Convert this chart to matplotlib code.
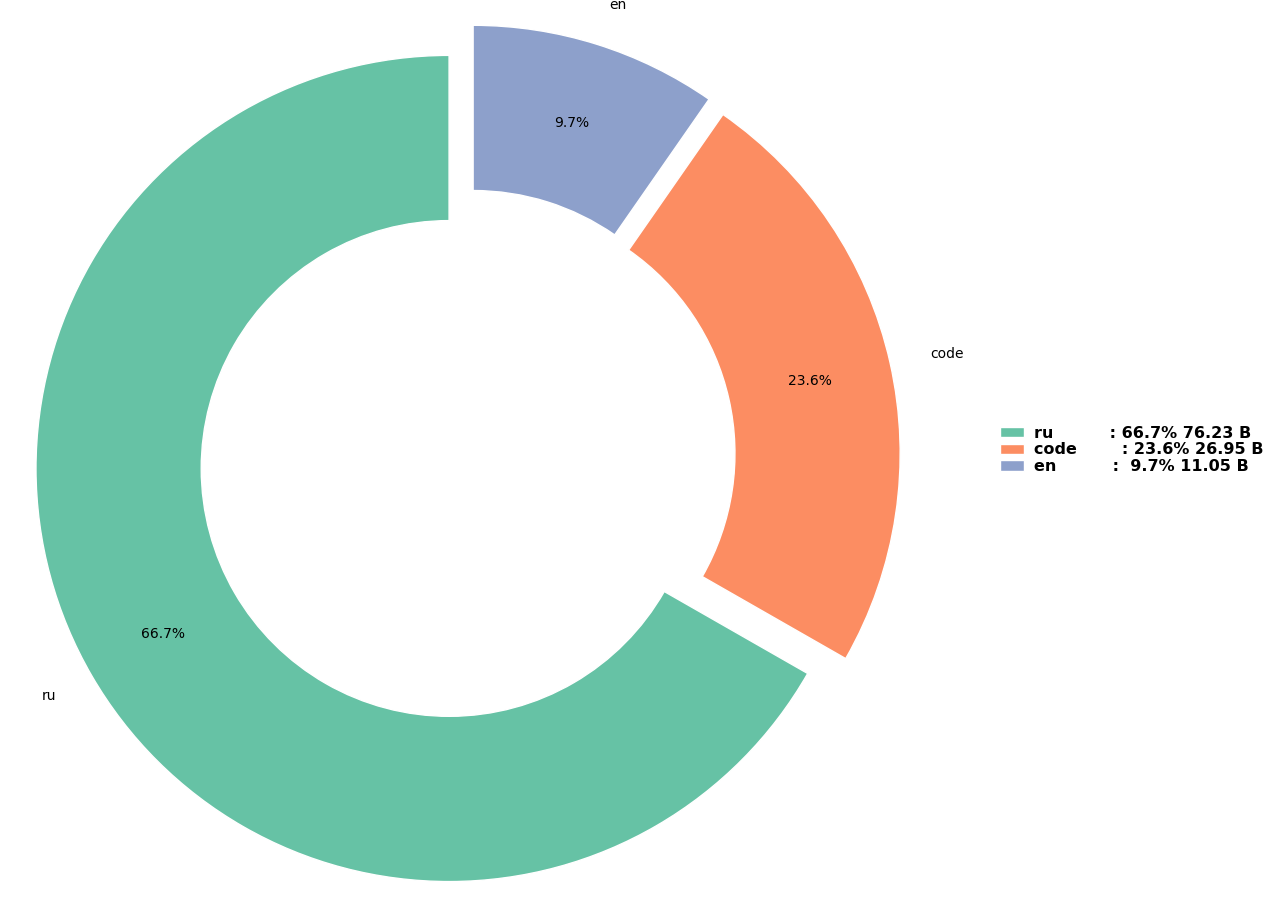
import matplotlib.pyplot as plt

### data
langs = ["ru", "code", "en"]
tokens_b = [76.23, 26.95, 11.05]
colors = ["#66c2a5", "#fc8d62", "#8da0cb"]
explode = [0.05, 0.05, 0.05]

legend_labels = [
    "ru          : 66.7% 76.23 B",
    "code        : 23.6% 26.95 B",
    "en          :  9.7% 11.05 B",
]

fig = plt.figure(figsize=(12.8, 9), dpi=100)
ax = fig.add_axes([0.0098, -0.014, 0.71, 1.01])
wedges, texts, autotexts = ax.pie(
    tokens_b, labels=langs, colors=colors, explode=explode,
    startangle=90, autopct="%1.1f%%", pctdistance=0.8,
    wedgeprops=dict(width=0.4, edgecolor="white"),
    textprops=dict(fontsize=10),
)
ax.set_xlim(-1.1, 1.1)
ax.set_ylim(-1.1, 1.1)
ax.set_aspect("equal")
ax.axis("off")

fig.legend(wedges, legend_labels, loc="center left",
           bbox_to_anchor=(0.77, 0.5), frameon=False,
           prop=dict(weight="bold", size=11.5),
           handlelength=1.5, handleheight=0.6, labelspacing=0.1,
           handletextpad=0.6)

fig.savefig("out.png", dpi=100)
